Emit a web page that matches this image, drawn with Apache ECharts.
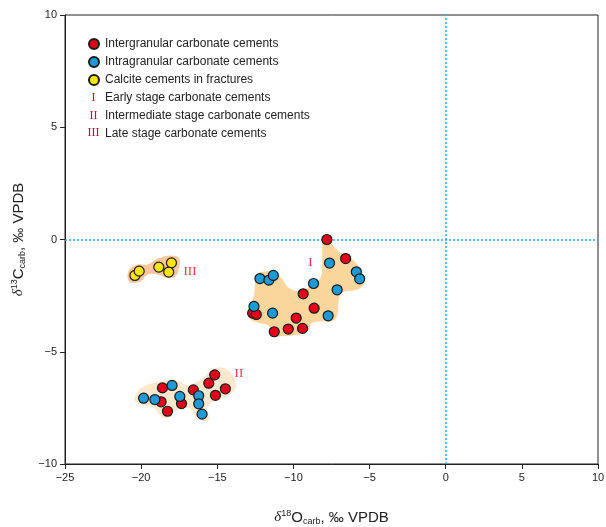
<!DOCTYPE html>
<html><head><meta charset="utf-8">
<script src="https://cdn.jsdelivr.net/npm/echarts@6/dist/echarts.min.js"></script>
<style>html,body{margin:0;padding:0;background:#fff}#c{width:606px;height:527px}</style>
</head><body><div id="c"></div>
<script>
// ---- data ----
const intergranular = [
  [-7.8,0.0],[-6.57,-0.85],[-9.36,-2.42],[-8.64,-3.06],[-12.68,-3.28],[-12.44,-3.34],
  [-9.82,-3.50],[-11.26,-4.11],[-10.34,-3.99],[-9.40,-3.96],
  [-18.69,-7.23],[-18.60,-6.61],[-18.27,-7.65],[-17.35,-7.31],[-16.57,-6.70],
  [-15.56,-6.40],[-15.17,-6.03],[-15.12,-6.94],[-14.47,-6.65]
];
const intragranular = [
  [-7.63,-1.05],[-12.2,-1.74],[-11.61,-1.81],[-11.32,-1.60],[-5.87,-1.44],[-5.65,-1.75],
  [-8.68,-1.96],[-7.13,-2.24],[-12.59,-2.98],[-11.37,-3.28],[-7.72,-3.40],
  [-19.84,-7.07],[-19.10,-7.13],[-17.97,-6.50],[-17.46,-6.99],[-16.22,-6.96],
  [-16.22,-7.32],[-16.00,-7.78]
];
const fractureCalcite = [[-20.41,-1.60],[-20.13,-1.41],[-18.84,-1.23],[-18.01,-1.04],[-18.19,-1.45]];
const seriesNames = ['Intergranular carbonate cements','Intragranular carbonate cements','Calcite cements in fractures'];
const stageNames = ['I','II','III'];
const stageLegendText = ['Early stage carbonate cements','Intermediate stage carbonate cements','Late stage carbonate cements'];
const stageLabelPos = [[-8.88,-1.04],[-13.58,-5.98],[-16.79,-1.41]];
const stageOutlineI = [
  [-7.90,0.22],[-7.46,-0.22],[-6.91,-0.59],[-6.26,-0.82],[-5.71,-1.19],[-5.39,-1.63],[-5.39,-2.00],
  [-5.82,-2.23],[-6.80,-2.37],[-7.03,-2.75],[-7.13,-3.41],[-7.46,-3.64],[-8.11,-3.64],[-8.77,-3.71],
  [-8.99,-4.01],[-9.65,-4.23],[-10.85,-4.31],[-11.39,-4.31],[-11.61,-3.86],[-12.27,-3.71],
  [-12.81,-3.56],[-12.92,-3.12],[-12.60,-2.53],[-12.48,-1.78],[-12.27,-1.48],[-11.72,-1.41],
  [-11.17,-1.41],[-10.73,-1.78],[-10.30,-2.15],[-9.65,-2.30],[-8.88,-2.08],[-8.22,-1.71],
  [-8.11,-1.04],[-8.11,-0.30],[-8.05,0.15]
];
const stageOutlineII = [
  [-20.46,-7.05],[-20.02,-6.61],[-18.71,-6.31],[-17.62,-6.28],[-16.96,-6.49],[-16.09,-6.24],
  [-15.32,-5.79],[-14.56,-5.72],[-13.90,-6.16],[-13.79,-6.61],[-14.34,-6.98],[-15.21,-7.20],
  [-15.65,-7.50],[-15.54,-8.02],[-15.98,-8.09],[-16.52,-7.80],[-16.85,-7.50],[-17.83,-7.65],
  [-18.05,-7.87],[-18.60,-7.94],[-19.15,-7.50],[-20.02,-7.35],[-20.41,-7.20]
];
const stageOutlineIII = [
  [-20.89,-1.71],[-20.78,-1.34],[-20.24,-1.11],[-19.58,-1.11],[-18.93,-0.86],[-18.05,-0.71],
  [-17.51,-0.82],[-17.51,-1.26],[-17.73,-1.63],[-18.27,-1.71],[-18.93,-1.56],[-19.58,-1.56],
  [-20.02,-1.86],[-20.68,-1.93]
];
const xTicks = {min:-25, max:10, interval:5};
const yTicks = {min:-10, max:10, interval:5};

// ---- chart ----
const outlines = [stageOutlineI, stageOutlineII, stageOutlineIII];
const blobColors = ['#FBD69C','#FDE8CE','#F8C6A0'];
const pointColors = ['#E2001A','#1E9BD7','#FFE600'];
const fontSans = '"Liberation Sans", Arial, sans-serif';
const fontSerif = '"Liberation Serif", "Times New Roman", serif';
const minus = v => String(v).replace('-', '\u2212');

const chart = echarts.init(document.getElementById('c'), null, {renderer:'canvas'});
const pointSeries = (name, data, color) => ({
  name, type:'scatter', data, symbol:'circle', symbolSize:10, z:5,
  itemStyle:{color, borderColor:'#1a1a1a', borderWidth:1.2, opacity:1}
});
const s0 = pointSeries(seriesNames[0], intergranular, pointColors[0]);
s0.markLine = {
  silent:true, symbol:'none', label:{show:false}, z:2,
  lineStyle:{color:'#3AA6DE', type:[2,2], width:1.5},
  data:[{xAxis:0},{yAxis:0}]
};

chart.setOption({
  animation:false,
  grid:{left:65, right:8, top:15, bottom:63, show:true, borderColor:'#222', borderWidth:1,
        containLabel:false, outerBoundsMode:'none'},
  xAxis:{
    type:'value', min:xTicks.min, max:xTicks.max, interval:xTicks.interval,
    splitLine:{show:false},
    axisLine:{onZero:false, lineStyle:{color:'#222', width:1}},
    axisTick:{length:5, lineStyle:{color:'#222'}},
    axisLabel:{color:'#222', fontSize:11, fontFamily:fontSans, margin:8, formatter:minus},
    name:'{d|δ}{sup|18}O{sub|carb}, ‰ VPDB', nameLocation:'middle', nameGap:45,
    nameTextStyle:{
      color:'#222', fontSize:15, fontFamily:fontSans,
      rich:{
        d:{fontSize:15, fontFamily:fontSerif, fontStyle:'italic', color:'#222'},
        sup:{fontSize:9, padding:[0,0,8,0], color:'#222', fontFamily:fontSans},
        sub:{fontSize:9, padding:[8,0,0,0], color:'#222', fontFamily:fontSans}
      }
    }
  },
  yAxis:{
    type:'value', min:yTicks.min, max:yTicks.max, interval:yTicks.interval,
    splitLine:{show:false},
    axisLine:{onZero:false, lineStyle:{color:'#222', width:1}},
    axisTick:{length:5, lineStyle:{color:'#222'}},
    axisLabel:{color:'#222', fontSize:11, fontFamily:fontSans, margin:8, formatter:minus},
    name:'{d|δ}{sup|13}C{sub|carb}, ‰ VPDB', nameLocation:'middle', nameGap:38, nameRotate:90,
    nameTextStyle:{
      color:'#222', fontSize:15, fontFamily:fontSans,
      rich:{
        d:{fontSize:15, fontFamily:fontSerif, fontStyle:'italic', color:'#222'},
        sup:{fontSize:9, padding:[0,0,8,0], color:'#222', fontFamily:fontSans},
        sub:{fontSize:9, padding:[8,0,0,0], color:'#222', fontFamily:fontSans}
      }
    }
  },
  legend:{
    orient:'vertical', left:88, top:38, padding:0, itemWidth:12, itemHeight:10, itemGap:6,
    icon:'circle', selectedMode:false,
    textStyle:{color:'#222', fontSize:12, fontFamily:fontSans},
    data:seriesNames
  },
  graphic: stageNames.flatMap((n,i)=>[
    {type:'text', x:93.5, y:97.7+i*17.8, style:{text:n, fill:'#E2001A', font:'12px '+fontSerif, align:'center', verticalAlign:'middle'}, z:10},
    {type:'text', x:105, y:97.7+i*17.8, style:{text:stageLegendText[i], fill:'#222', font:'12px '+fontSans, align:'left', verticalAlign:'middle'}, z:10}
  ]),
  series:[
    {
      type:'custom', silent:true, z:1,
      data: stageLabelPos.map((p,i)=>[p[0],p[1],i]),
      renderItem:(params, api)=>{
        const idx = api.value(2);
        const pts = outlines[idx].map(p=>api.coord(p));
        return {type:'polygon', shape:{points:pts, smooth:0.35}, style:{fill:blobColors[idx]}};
      }
    },
    s0,
    pointSeries(seriesNames[1], intragranular, pointColors[1]),
    pointSeries(seriesNames[2], fractureCalcite, pointColors[2]),
    {
      type:'scatter', silent:true, symbolSize:0, z:6,
      data: stageLabelPos.map((p,i)=>({value:p, name:stageNames[i]})),
      label:{show:true, position:'inside', formatter:'{b}', color:'#E2001A', fontSize:13, fontFamily:fontSerif}
    }
  ]
});
</script>
</body></html>
